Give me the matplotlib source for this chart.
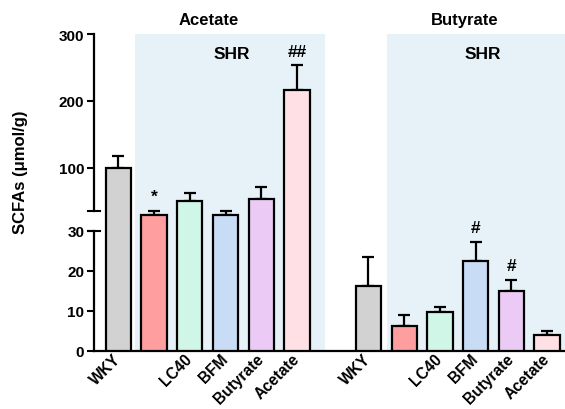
import numpy as np
import matplotlib
matplotlib.use('Agg')
import matplotlib.pyplot as plt

plt.rcParams['font.family'] = ['Liberation Sans', 'DejaVu Sans']
plt.rcParams['font.weight'] = 'bold'

# data
groups = ['Acetate', 'Butyrate']
labels = ['WKY', '', 'LC40', 'BFM', 'Butyrate', 'Acetate']
colors = ['#D2D2D2', '#FF9E9E', '#CFF6E6', '#C8DCF5', '#EBCBF5', '#FFE0E4']
acetate_mean = [100, 34, 50, 34, 54, 217]
acetate_err = [18, 2, 13, 1.5, 17, 36]
butyrate_mean = [16.2, 6.3, 9.7, 22.5, 14.9, 4.0]
butyrate_err = [7.3, 2.8, 1.3, 4.8, 2.8, 1.0]
acetate_marks = ['', '*', '', '', '', '##']
butyrate_marks = ['', '', '', '#', '#', '']

# broken axis: 0-30 low segment, 35-300 high segment
bp_v = np.array([0, 30, 35, 300.0])
bp_s = np.array([0, 120, 139.5, 317.0])

def fwd(v):
	v = np.asarray(v, float)
	out = np.interp(v, bp_v, bp_s)
	hi = (bp_s[-1] - bp_s[-2]) / (bp_v[-1] - bp_v[-2])
	lo = (bp_s[1] - bp_s[0]) / (bp_v[1] - bp_v[0])
	out = np.where(v > bp_v[-1], bp_s[-1] + (v - bp_v[-1]) * hi, out)
	out = np.where(v < 0, v * lo, out)
	return out

def inv(s):
	s = np.asarray(s, float)
	out = np.interp(s, bp_s, bp_v)
	hi = (bp_s[-1] - bp_s[-2]) / (bp_v[-1] - bp_v[-2])
	lo = (bp_s[1] - bp_s[0]) / (bp_v[1] - bp_v[0])
	out = np.where(s > bp_s[-1], bp_v[-1] + (s - bp_s[-1]) / hi, out)
	out = np.where(s < 0, s / lo, out)
	return out

fig = plt.figure(figsize=(5.65, 4.10), dpi=100)
ax = fig.add_axes([0.1664, 0.1415, 0.8336, 0.7731])
ax.set_yscale('function', functions=(fwd, inv))

shade = '#E6F2F8'
ax.axvspan(0.46, 5.78, color=shade, zorder=0, lw=0)
ax.axvspan(7.52, 12.6, color=shade, zorder=0, lw=0)

x1 = np.arange(6)
x2 = np.arange(6) + 7
for xs, means, errs, marks in [(x1, acetate_mean, acetate_err, acetate_marks),
								(x2, butyrate_mean, butyrate_err, butyrate_marks)]:
	ax.errorbar(xs, means, yerr=[np.zeros(len(errs)), errs], fmt='none', ecolor='k',
				elinewidth=1.6, capsize=4.3, capthick=1.6, zorder=2)
	ax.bar(xs, means, width=0.71, color=colors, edgecolor='k', linewidth=1.6, zorder=3)
	for x, m, e, t in zip(xs, means, errs, marks):
		if t:
			ax.annotate(t, (x, m + e), xytext=(0, 5), textcoords='offset points',
						ha='center', va='bottom', fontsize=12.5, fontweight='bold')

ax.set_xlim(-0.68, 12.5)
ax.set_ylim(0, 300)
ax.set_yticks([0, 10, 20, 30, 100, 200, 300])
ax.set_yticklabels(['0', '10', '20', '30', '100', '200', '300'], fontsize=11, fontweight='bold')
ax.tick_params(axis='y', length=5, width=1.5, pad=2)
ax.set_xticks(np.concatenate([x1, x2]))
ax.set_xticklabels(labels + labels, rotation=45, ha='right', va='center',
				   rotation_mode='anchor', fontsize=11.2, fontweight='bold')
ax.tick_params(axis='x', length=0, pad=4)

for s in ['top', 'right', 'left']:
	ax.spines[s].set_visible(False)
ax.spines['bottom'].set_linewidth(1.6)

# left axis drawn in two pieces
yt = ax.get_yaxis_transform()
ax.plot([0, 0], [0, 30], color='k', lw=1.6, transform=yt, clip_on=False, zorder=4)
ax.plot([0, 0], [35, 300], color='k', lw=1.6, transform=yt, clip_on=False, zorder=4)
ax.plot([-0.013, 0.013], [30, 30], color='k', lw=1.5, transform=yt, clip_on=False, zorder=4)
ax.plot([-0.013, 0.013], [35, 35], color='k', lw=1.5, transform=yt, clip_on=False, zorder=4)

ax.set_ylabel('SCFAs (μmol/g)', fontsize=12, fontweight='bold')
ax.yaxis.set_label_coords(-0.14, 0.568)

xt = ax.get_xaxis_transform()
ax.text(2.53, 1.047, groups[0], transform=xt, ha='center', va='center', fontsize=12, fontweight='bold')
ax.text(9.68, 1.047, groups[1], transform=xt, ha='center', va='center', fontsize=12, fontweight='bold')
ax.text(3.17, 0.937, 'SHR', transform=xt, ha='center', va='center', fontsize=12.5, fontweight='bold')
ax.text(10.19, 0.937, 'SHR', transform=xt, ha='center', va='center', fontsize=12.5, fontweight='bold')

fig.savefig('out.png', dpi=100)
